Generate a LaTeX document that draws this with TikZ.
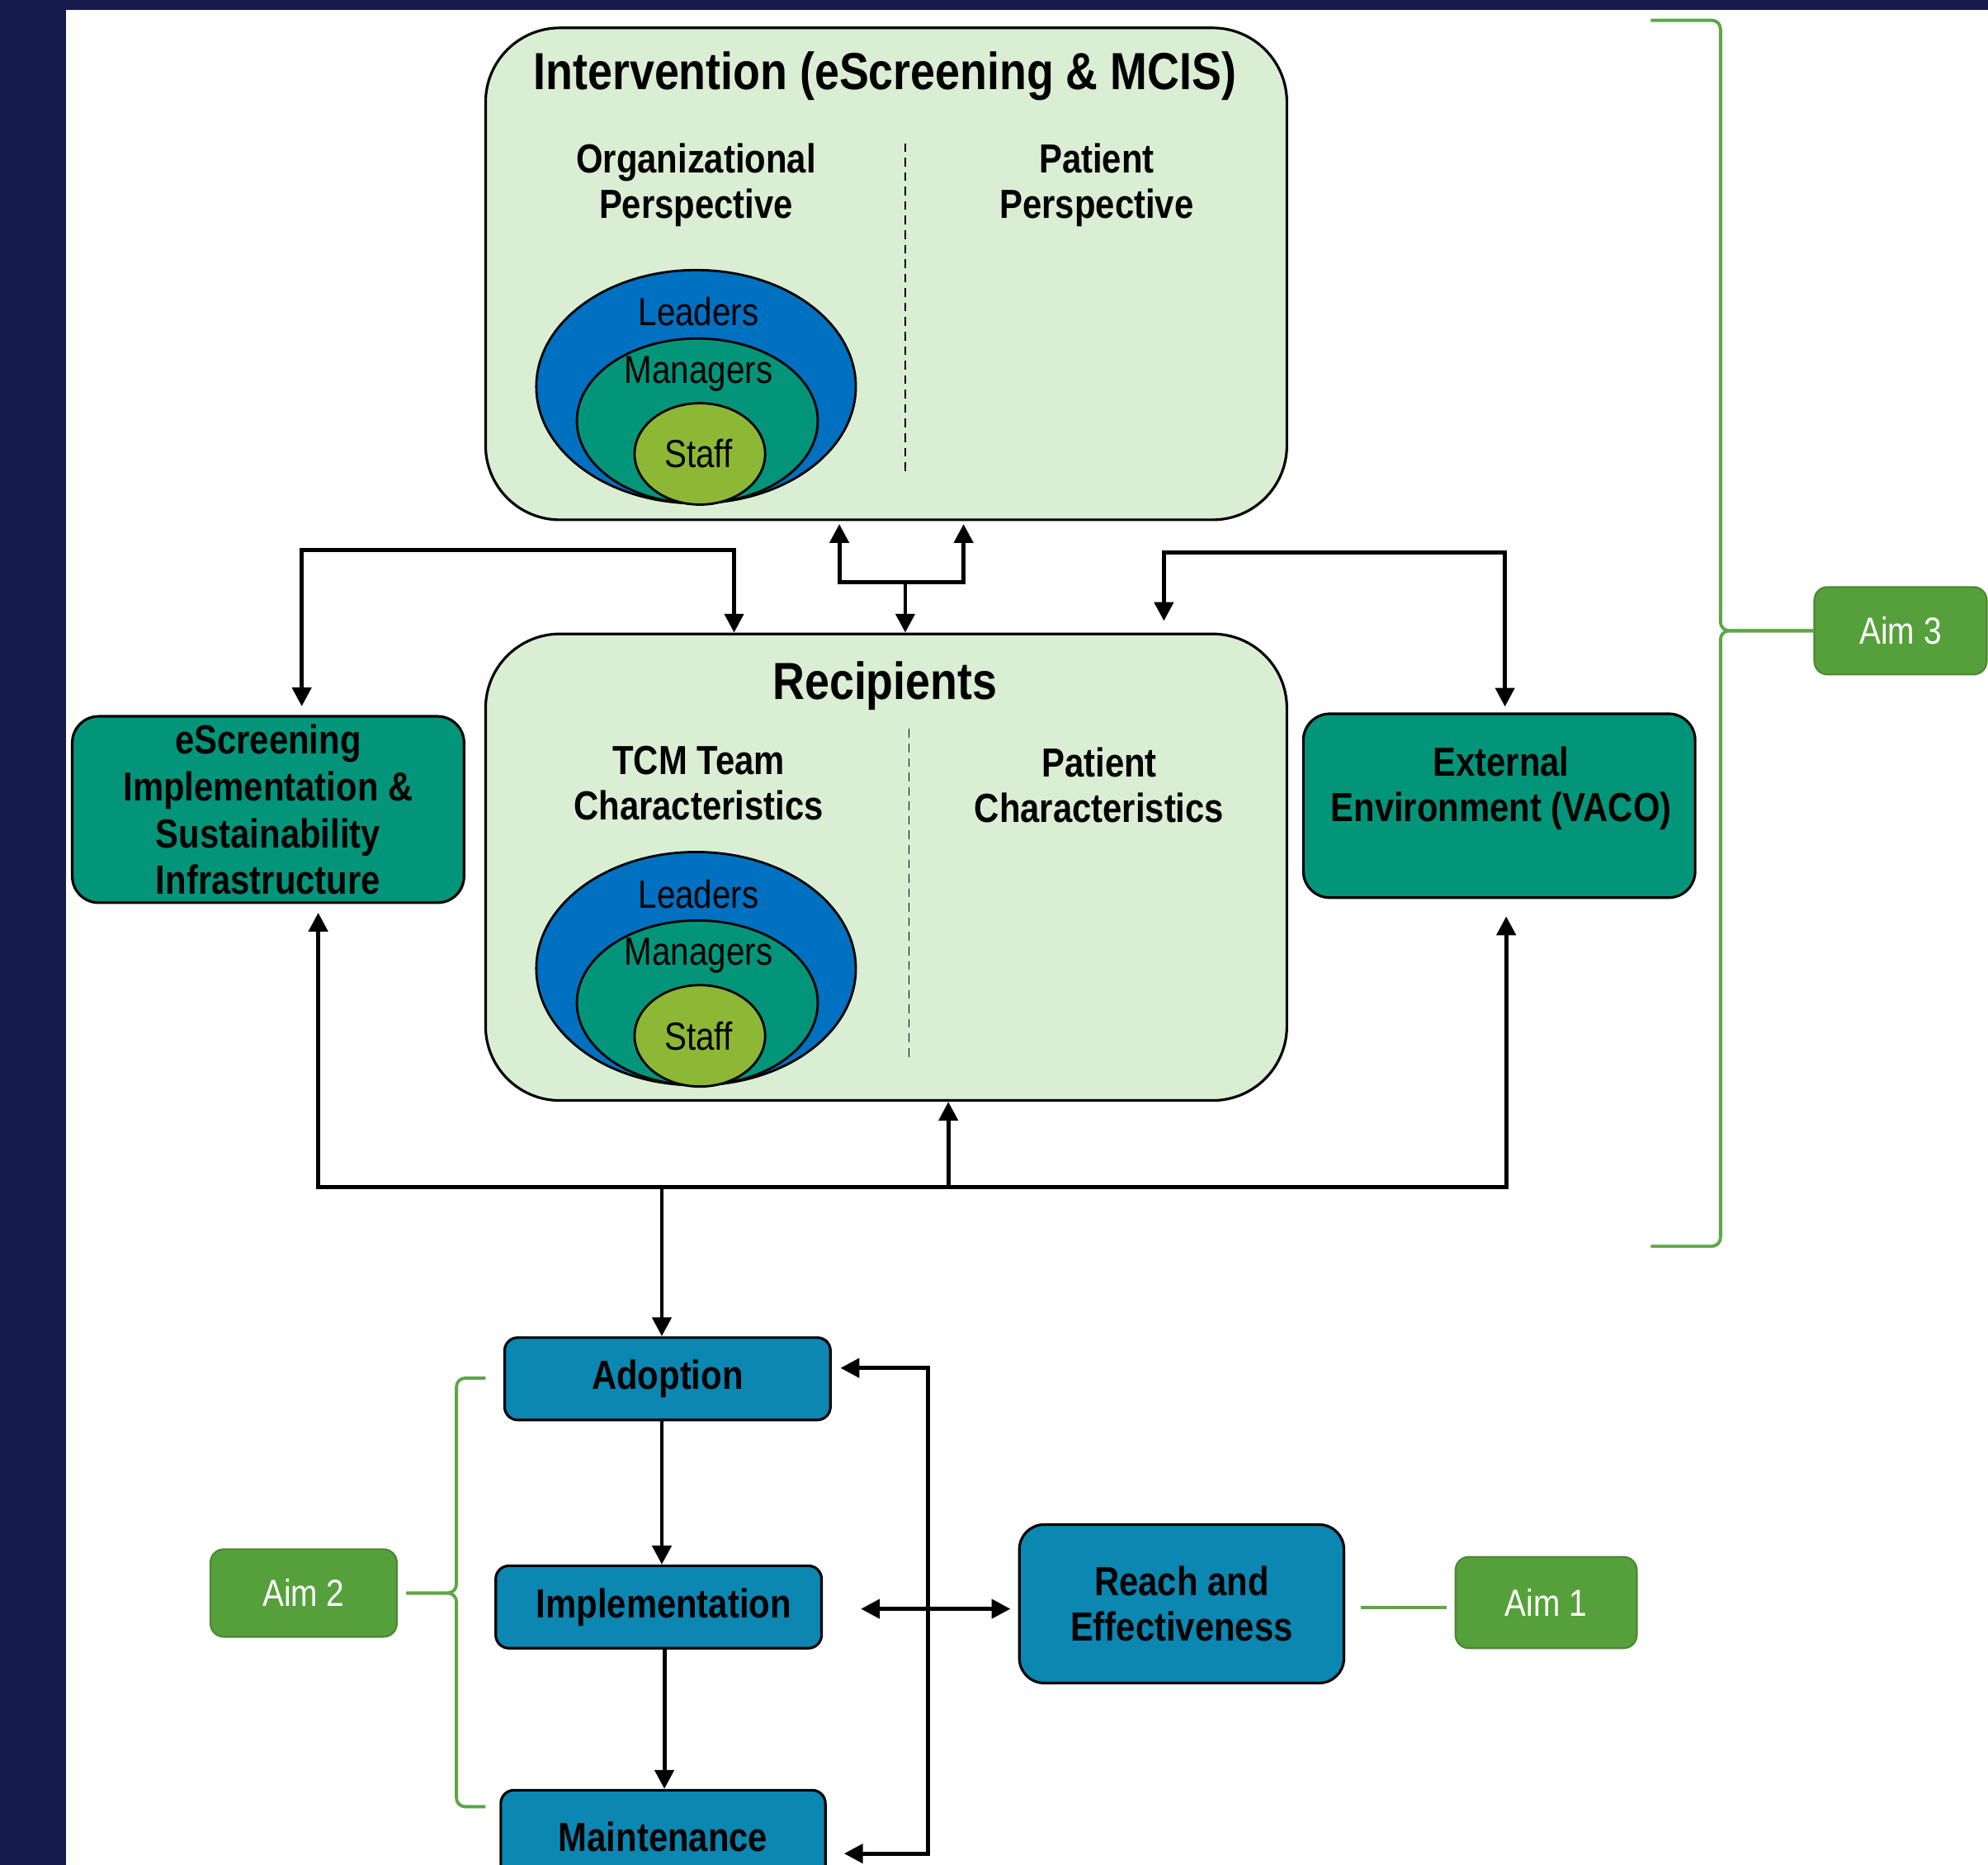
\documentclass[tikz,border=0pt]{standalone}
\usepackage{fontspec}
\setmainfont{Liberation Sans}[FakeStretch=0.85]
\usepackage{tikz}
\usetikzlibrary{positioning,arrows.meta,shapes.geometric,calc,fit}
\definecolor{frameNavy}{HTML}{141A4C}
\definecolor{panelGreen}{HTML}{DAEED4}
\definecolor{ringBlue}{HTML}{0070C0}
\definecolor{ringTeal}{HTML}{03957A}
\definecolor{ringOlive}{HTML}{8DB836}
\definecolor{reaimBlue}{HTML}{0B87B1}
\definecolor{aimGreen}{HTML}{55A03A}
\definecolor{braceGreen}{HTML}{5EA646}
\newlength\dpx
\setlength\dpx{0.015364cm}
\tikzset{
  panel/.style={draw,line width=0.9pt,fill=panelGreen,rounded corners=0.9cm,inner sep=0pt},
  tealbox/.style={draw,line width=0.9pt,fill=ringTeal,rounded corners=0.32cm,inner sep=0pt,align=center,font=\bfseries\fontsize{14}{16.2}\selectfont},
  reaim/.style={draw,line width=0.9pt,fill=reaimBlue,rounded corners=0.16cm,inner sep=0pt,align=center,font=\bfseries\fontsize{14}{15.8}\selectfont},
  aimbox/.style={draw=aimGreen!85!black,line width=0.6pt,fill=aimGreen,rounded corners=0.16cm,inner sep=0pt,text=white,font=\fontsize{13}{15}\selectfont},
  ring/.style={ellipse,draw,line width=0.8pt,inner sep=0pt},
  ringtext/.style={inner sep=0pt,font=\fontsize{13.5}{15}\selectfont},
  paneltitle/.style={font=\bfseries\fontsize{18}{21}\selectfont},
  heading/.style={align=center,font=\bfseries\fontsize{14}{15.7}\selectfont},
  divider/.style={line width=0.5pt,dash pattern=on 3pt off 2pt},
  arr/.style={->,line width=1.4pt},
  brc/.style={braceGreen,line width=1.1pt,rounded corners=3pt},
}

\begin{document}
\begin{tikzpicture}[x=0.015364cm,y=-0.015364cm,>={Triangle[length=6.5pt,width=6.5pt]}]
\useasboundingbox (0,0) rectangle (1568,1471);
\fill[white] (0,0) rectangle (1568,1471);
\fill[frameNavy] (0,0) rectangle (52,1471);
\fill[frameNavy] (0,0) rectangle (1568,8);

% intervention panel
\node[panel, fit={(383,22) (1015,410)}] (intv) {};
\node[paneltitle] (intvtitle) at (698,60) {Intervention (eScreening \& MCIS)};
\node[heading] (orgview) at (549,146) {Organizational\\Perspective};
\node[heading] (patview) at (865,146) {Patient\\Perspective};
\draw[divider] (714,113) -- (714,372);

% recipients panel
\node[panel, fit={(383,500) (1015,868)}] (recip) {};
\node[paneltitle] (reciptitle) at (698,541) {Recipients};
\node[heading] (tcmchar) at (551,618) {TCM Team\\Characteristics};
\node[heading] (patchar) at (867,619) {Patient\\Characteristics};
\draw[divider] (717,575) -- (717,835);

% nested rings in both panels
\foreach \nm/\cy in {intv/305, recip/764}{
  \node[ring, fill=ringBlue, minimum width=252\dpx, minimum height=184\dpx] (\nm-lead) at (549,\cy) {};
  \node[ring, fill=ringTeal, minimum width=190\dpx, minimum height=130\dpx] (\nm-mgr) at (550,{\cy+27}) {};
  \node[ring, fill=ringOlive, minimum width=103\dpx, minimum height=80\dpx] (\nm-staff) at (552,{\cy+53}) {};
  \node[ringtext] (\nm-leadtxt) at (551,{\cy-59}) {Leaders};
  \node[ringtext] (\nm-mgrtxt) at (551,{\cy-10}) {Managers};
  \node[ringtext] (\nm-stafftxt) at (551,{\cy+53}) {Staff};
}

% side boxes
\node[tealbox, minimum width=309\dpx, minimum height=147\dpx] (escr) at (211.5,638.5) {eScreening\\Implementation \&\\Sustainability\\Infrastructure};
\node[tealbox, minimum width=309\dpx, minimum height=145\dpx] (extern) at (1182.5,635.5) {};
\node[heading] (externtxt) at (1184,622) {External\\Environment (VACO)};

% RE-AIM boxes
\node[reaim, minimum width=257\dpx, minimum height=65\dpx] (adopt) at (526.5,1087.5) {Adoption};
\node[reaim, minimum width=257\dpx, minimum height=65\dpx] (impl) at (519.5,1267.5) {\hspace*{8\dpx}Implementation};
\node[reaim, minimum width=256\dpx, minimum height=74\dpx] (maint) at (523,1449) {Maintenance};
\node[reaim, rounded corners=0.3cm, minimum width=256\dpx, minimum height=125\dpx] (reach) at (932,1265) {Reach and\\Effectiveness};

% aims
\node[aimbox, minimum width=136\dpx, minimum height=69\dpx] (aim3) at (1499,497.5) {Aim 3};
\node[aimbox, minimum width=147\dpx, minimum height=69\dpx] (aim2) at (239.5,1256.5) {Aim 2};
\node[aimbox, minimum width=143\dpx, minimum height=72\dpx] (aim1) at (1219.5,1264) {Aim 1};

% connectors
\coordinate (fork) at (714,459);
\coordinate (hub) at (748,936);
\draw[arr, <->, shorten <=3pt] (escr.north -| 238,0) |- (579,434) -- (recip.north -| 579,0);
\draw[arr] (fork) -- (recip.north -| fork);
\draw[arr, shorten >=1pt] (fork) -| (intv.south -| 662,0);
\draw[arr, shorten >=1pt] (fork) -| (intv.south -| 760,0);
\draw[arr, <->, shorten <=4pt, shorten >=2pt] (recip.north -| 918,0) |- (1187,436) -- (extern.north -| 1187,0);
\draw[arr, shorten >=3pt] (hub) -| (escr.south -| 251,0);
\draw[arr] (hub) -- (recip.south -| hub);
\draw[arr, shorten >=6pt] (hub) -| (extern.south -| 1188,0);
\draw[arr] (hub -| 522,0) -- (adopt.north -| 522,0);
\draw[arr] (adopt.south -| 522,0) -- (impl.north -| 522,0);
\draw[arr] (impl.south -| 524,0) -- (maint.north -| 524,0);
\draw[arr, <->, shorten <=3pt, shorten >=6pt] (adopt.east |- 0,1079) -| (732,1270) |- (maint.east |- 0,1462);
\draw[arr, <->, shorten <=30\dpx, shorten >=6\dpx] (impl.east |- 0,1269) -- (reach.west |- 0,1269);

% aim braces
\draw[brc] (1302,16) -- (1357,16) -- (aim3.west -| 1357,0) -- (aim3.west);
\draw[brc] (1302,983) -- (1357,983) -- (aim3.west -| 1357,0) -- (aim3.west);
\draw[brc, shorten >=3pt] (383,1087) -- (360,1087) -- (aim2.east -| 360,0) -- (aim2.east);
\draw[brc, shorten >=3pt] (383,1425) -- (360,1425) -- (aim2.east -| 360,0) -- (aim2.east);
\draw[brc, shorten <=12\dpx, shorten >=6\dpx] (reach.east |- 0,1268) -- (aim1.west |- 0,1268);
\end{tikzpicture}
\end{document}
